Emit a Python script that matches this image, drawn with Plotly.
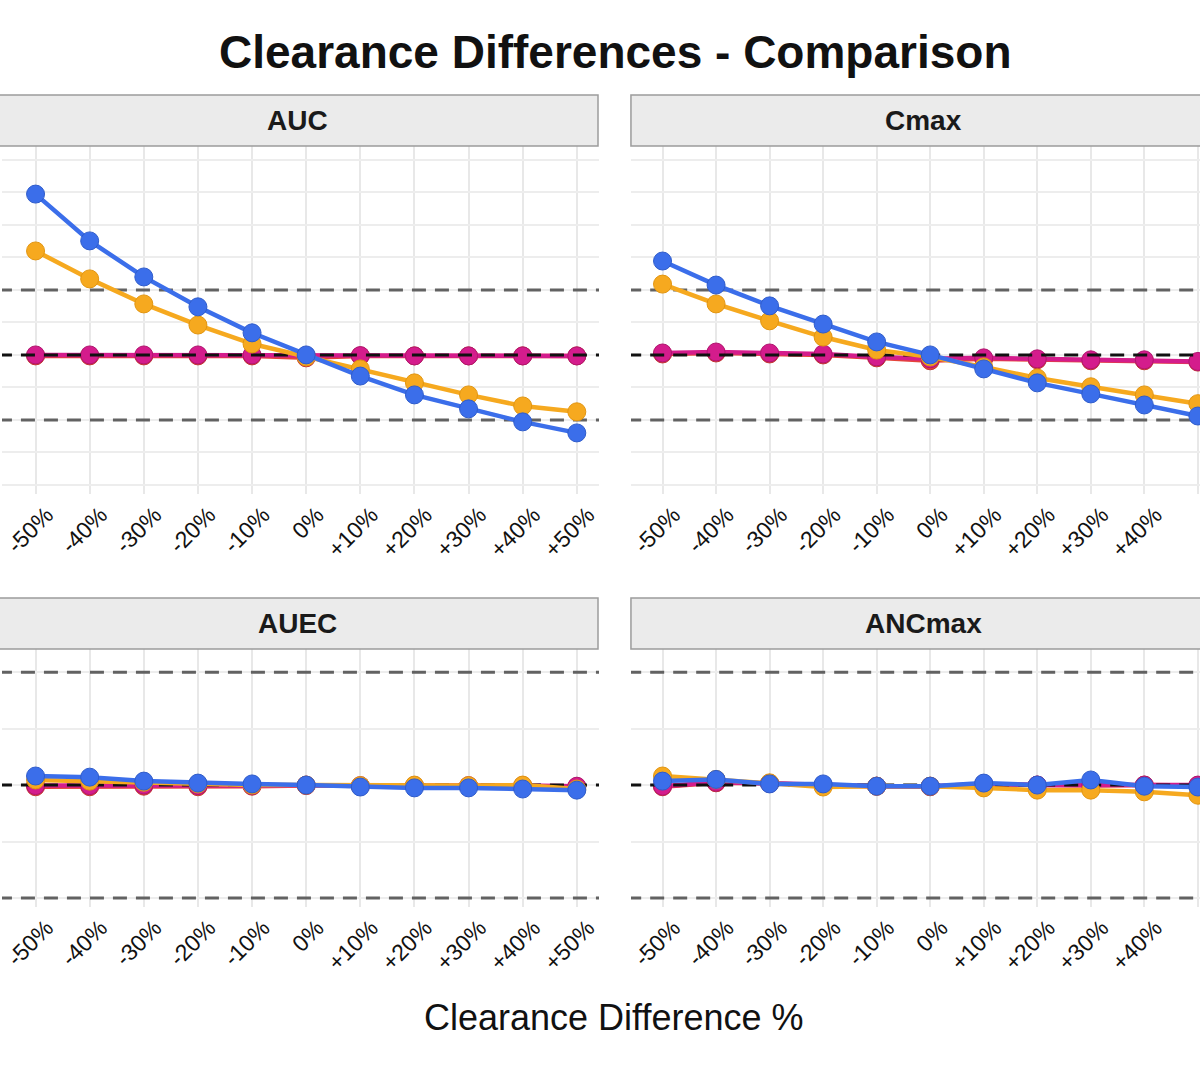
import plotly.graph_objects as go

# ---------------- data ----------------
clearance_diff = [-50, -40, -30, -20, -10, 0, 10, 20, 30, 40, 50]
tick_labels = ["-50%", "-40%", "-30%", "-20%", "-10%", "0%", "+10%", "+20%", "+30%", "+40%", "+50%"]
panels = ["AUC", "Cmax", "AUEC", "ANCmax"]
series_names = ["Red", "Pink", "Orange", "Blue"]

auc_red = [-0.3, -0.3, -0.3, -0.3, -0.3, -0.9, -0.3, -0.3, -0.3, -0.3, -0.3]
auc_pink = [0.0, 0.0, 0.0, 0.0, 0.0, -0.3, -0.2, -0.3, -0.3, -0.3, -0.3]
auc_orange = [32.0, 23.4, 15.7, 9.2, 3.4, -0.6, -4.3, -8.6, -12.3, -15.7, -17.5]
auc_blue = [49.5, 35.1, 24.0, 14.8, 6.8, 0.0, -6.5, -12.3, -16.6, -20.6, -24.0]

cmax_red = [0.3, 0.6, 0.3, 0.0, -0.9, -1.8, -1.2, -1.5, -1.8, -1.8, -2.2]
cmax_pink = [0.6, 0.9, 0.6, 0.3, -0.6, -1.2, -0.9, -1.2, -1.5, -1.5, -2.0]
cmax_orange = [21.8, 15.7, 10.5, 5.5, 1.5, -0.6, -3.7, -7.1, -9.8, -12.3, -15.0]
cmax_blue = [28.9, 21.5, 15.1, 9.5, 4.0, 0.0, -4.3, -8.6, -12.0, -15.4, -18.8]

auec_red = [-0.3, -0.3, -0.2, -0.3, -0.2, -0.1, -0.2, -0.2, -0.2, -0.2, -0.3]
auec_pink = [-0.1, -0.1, 0.0, -0.1, -0.1, 0.0, -0.1, -0.1, -0.1, -0.1, -0.2]
auec_orange = [0.9, 0.7, 0.5, 0.2, 0.0, 0.0, -0.1, 0.0, -0.1, 0.0, -0.7]
auec_blue = [1.6, 1.4, 0.7, 0.35, 0.2, 0.0, -0.35, -0.5, -0.5, -0.7, -0.9]

ancmax_red = [-0.3, 0.4, 0.3, -0.1, -0.2, -0.3, 0.1, 0.0, -0.1, 0.0, -0.1]
ancmax_pink = [-0.2, 0.5, 0.3, 0.0, -0.2, -0.2, 0.2, 0.0, 0.0, 0.0, 0.0]
ancmax_orange = [1.6, 1.0, 0.4, -0.35, -0.2, -0.2, -0.5, -0.9, -0.9, -1.2, -1.8]
ancmax_blue = [0.7, 1.0, 0.2, 0.2, -0.2, -0.2, 0.35, 0.0, 0.9, -0.2, -0.35]

ref_limits = [-20, 20]
ref_zero = 0

panel_data = {
    "AUC": [auc_red, auc_pink, auc_orange, auc_blue],
    "Cmax": [cmax_red, cmax_pink, cmax_orange, cmax_blue],
    "AUEC": [auec_red, auec_pink, auec_orange, auec_blue],
    "ANCmax": [ancmax_red, ancmax_pink, ancmax_orange, ancmax_blue],
}

# ---------------- style ----------------
W, H = 1200, 1080
colors = {"Red": "#E5433B", "Pink": "#D41C8C", "Orange": "#F6A91F", "Blue": "#3B6EEA"}
edge = {"Red": "#C43530", "Pink": "#B0166F", "Orange": "#E29510", "Blue": "#2F5CCB"}
FONT = "Liberation Sans, Arial, Helvetica, sans-serif"

def px_x(p):
    return p / W

def px_y(p):
    return 1 - p / H

# panel geometry (pixels)
geo = {
    "AUC":    dict(x0=0, x1=598, y0=146, y1=494, xr=[-56.2, 54.1], yr=[-42.8, 64.3], strip=(-10, 597, 95, 146), cx=296, axis=1),
    "Cmax":   dict(x0=630, x1=1200, y0=146, y1=494, xr=[-55.9, 50.4], yr=[-42.8, 64.3], strip=(630, 1210, 95, 146), cx=923, axis=2),
    "AUEC":   dict(x0=0, x1=598, y0=649, y1=907, xr=[-56.2, 54.1], yr=[-21.6, 24.1], strip=(-10, 597, 598, 649), cx=296, axis=3),
    "ANCmax": dict(x0=630, x1=1200, y0=649, y1=907, xr=[-55.9, 50.4], yr=[-21.6, 24.1], strip=(630, 1210, 598, 649), cx=923, axis=4),
}

fig = go.Figure()
shapes = []
annotations = []
layout_axes = {}

for name in panels:
    g = geo[name]
    i = g["axis"]
    xa = "x" if i == 1 else f"x{i}"
    ya = "y" if i == 1 else f"y{i}"
    vals = panel_data[name]

    def add_series(k):
        s = series_names[k]
        fig.add_trace(go.Scatter(
            x=clearance_diff, y=vals[k], mode="lines+markers", name=s,
            line=dict(color=colors[s], width=4.5),
            marker=dict(size=18, color=colors[s], line=dict(color=edge[s], width=1)),
            xaxis=xa, yaxis=ya, showlegend=False, cliponaxis=True,
        ))

    add_series(0)
    add_series(1)
    # reference lines
    for lim in ref_limits:
        fig.add_trace(go.Scatter(
            x=[g["xr"][0] - 5, g["xr"][1] + 5], y=[lim, lim], mode="lines",
            line=dict(color="#626262", width=3, dash="14px,9px"),
            xaxis=xa, yaxis=ya, showlegend=False, hoverinfo="skip",
        ))
    fig.add_trace(go.Scatter(
        x=[g["xr"][0] - 5, g["xr"][1] + 5], y=[ref_zero, ref_zero], mode="lines",
        line=dict(color="#111111", width=3, dash="14px,9px"),
        xaxis=xa, yaxis=ya, showlegend=False, hoverinfo="skip",
    ))
    add_series(2)
    add_series(3)

    xkey = "xaxis" if i == 1 else f"xaxis{i}"
    ykey = "yaxis" if i == 1 else f"yaxis{i}"
    layout_axes[xkey] = dict(
        domain=[px_x(g["x0"]), px_x(g["x1"])], range=g["xr"], anchor=ya,
        tickmode="array", tickvals=clearance_diff, ticktext=tick_labels,
        tickangle=-45, tickfont=dict(family=FONT, size=23, color="#111111"),
        ticklabelshift=11, ticklabelstandoff=2,
        showgrid=True, gridcolor="#E8E8E8", gridwidth=1.5,
        zeroline=False, showline=False, ticks="", fixedrange=True,
    )
    layout_axes[ykey] = dict(
        domain=[px_y(g["y1"]), px_y(g["y0"])], range=g["yr"], anchor=xa,
        tickmode="linear", tick0=0, dtick=10, showticklabels=False,
        showgrid=True, gridcolor="#EDEDED", gridwidth=1.5,
        zeroline=False, showline=False, ticks="", fixedrange=True,
    )

    sx0, sx1, sy0, sy1 = g["strip"]
    shapes.append(dict(
        type="rect", xref="paper", yref="paper",
        x0=px_x(sx0), x1=px_x(sx1), y0=px_y(sy1), y1=px_y(sy0),
        fillcolor="#EBEBEB", line=dict(color="#9C9C9C", width=1.5), layer="above",
    ))
    annotations.append(dict(
        text=f"<b>{name}</b>", x=px_x(g["cx"]), y=px_y((sy0 + sy1) / 2),
        xref="paper", yref="paper", xanchor="center", yanchor="middle",
        showarrow=False, font=dict(family=FONT, size=28, color="#1a1a1a"),
    ))

annotations.append(dict(
    text="<b>Clearance Differences - Comparison</b>", x=px_x(615), y=px_y(52),
    xref="paper", yref="paper", xanchor="center", yanchor="middle",
    showarrow=False, font=dict(family=FONT, size=46, color="#111111"),
))
annotations.append(dict(
    text="Clearance Difference %", x=px_x(613), y=px_y(1018),
    xref="paper", yref="paper", xanchor="center", yanchor="middle",
    showarrow=False, font=dict(family=FONT, size=36, color="#111111"),
))

fig.update_layout(
    width=W, height=H,
    margin=dict(l=0, r=0, t=0, b=0),
    paper_bgcolor="white", plot_bgcolor="white",
    shapes=shapes, annotations=annotations,
    showlegend=False,
    **layout_axes,
)

fig.write_html("out.html")
